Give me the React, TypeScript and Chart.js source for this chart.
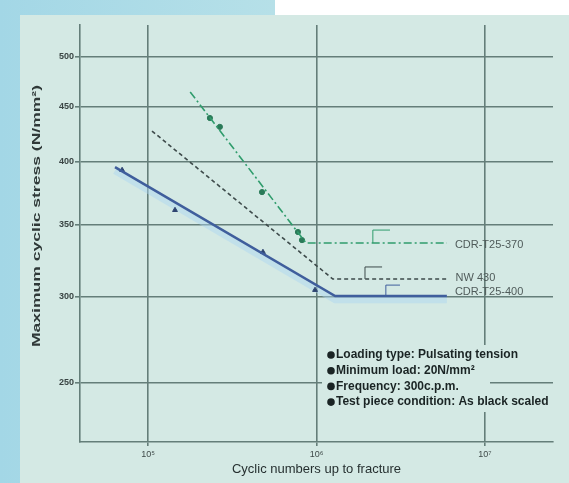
import React, { useEffect, useRef } from "react";
import { Chart, registerables } from "chart.js";

Chart.register(...registerables);

// ---- data ----
const yTicks = [250, 300, 350, 400, 450, 500];
const yTickLabels = ["250", "300", "350", "400", "450", "500"];
const xTicks = [1e5, 1e6, 1e7];
const xTickLabels = ["10⁵", "10⁶", "10⁷"];

const seriesNames = ["CDR-T25-370", "NW 430", "CDR-T25-400"];

const greenX = [1.78e5, 8.67e5, 5.94e6];
const greenY = [464, 336.5, 336.5];
const dashedX = [1.056e5, 1.25e6, 6.0e6];
const dashedY = [427, 311.7, 311.7];
const blueX = [6.37e4, 1.29e6, 5.94e6];
const blueY = [395.5, 300.6, 300.6];

const greenPtsX = [2.33e5, 2.67e5, 4.75e5, 7.76e5, 8.2e5];
const greenPtsY = [439, 430.8, 375, 344.5, 338.6];
const bluePtsX = [7.02e4, 1.446e5, 4.81e5, 9.8e5];
const bluePtsY = [393, 360.9, 330.1, 304.5];

const greenRunX = [2.16e6, 2.16e6, 2.73e6];
const greenRunY = [336.5, 345.9, 345.9];
const dashedRunX = [1.94e6, 1.94e6, 2.45e6];
const dashedRunY = [311.7, 319.8, 319.8];
const blueRunX = [2.58e6, 2.58e6, 3.13e6];
const blueRunY = [300.6, 307.7, 307.7];

const noteLines = [
  "Loading type: Pulsating tension",
  "Minimum load: 20N/mm²",
  "Frequency: 300c.p.m.",
  "Test piece condition: As black scaled",
];

const xTitle = "Cyclic numbers up to fracture";
const yTitle = "Maximum cyclic stress (N/mm²)";

const PANEL = "#d4e9e4";
const GRID = "#647e79";
const GREEN = "#2f9c6c";
const DASHED = "#3d4a4a";
const BLUE = "#3f5e9c";
const FONT = "'Liberation Sans', Arial, sans-serif";

const pts = (xs: number[], ys: number[]) => xs.map((x, i) => ({ x, y: ys[i] }));

const extras = {
  id: "extras",
  beforeDatasetsDraw(chart: any) {
    const ctx = chart.ctx;
    ctx.save();
    ctx.fillStyle = PANEL;
    ctx.fillRect(322, 345, 168, 67);
    ctx.restore();
  },
  afterDraw(chart: any) {
    const ctx = chart.ctx;
    const xs = chart.scales.x;
    const ys = chart.scales.y;
    ctx.save();
    // right labels
    ctx.fillStyle = "#4f5b5a";
    ctx.font = `11px ${FONT}`;
    ctx.textBaseline = "middle";
    ctx.textAlign = "left";
    const ends = [
      [greenX[2], greenY[2], 2],
      [dashedX[2], dashedY[2], -1],
      [blueX[2], blueY[2], -4],
    ];
    ends.forEach((e, i) => {
      const px = xs.getPixelForValue(e[0]) + 8;
      const py = ys.getPixelForValue(e[1]) + e[2];
      ctx.fillText(seriesNames[i], px, py);
    });
    // notes
    ctx.fillStyle = "#1a2424";
    ctx.font = `bold 12px ${FONT}`;
    noteLines.forEach((t, i) => {
      const y = 355 + i * 15.7;
      ctx.beginPath();
      ctx.arc(331, y, 3.8, 0, Math.PI * 2);
      ctx.fill();
      ctx.fillText(t, 336, y);
    });
    // y title
    ctx.font = `bold 11px ${FONT}`;
    ctx.fillStyle = "#2f3938";
    const w = ctx.measureText(yTitle).width;
    ctx.translate(37, 216);
    ctx.rotate(-Math.PI / 2);
    ctx.scale(262 / w, 1);
    ctx.textAlign = "center";
    ctx.fillText(yTitle, 0, 0);
    ctx.restore();
  },
};

export default function App() {
  const ref = useRef<HTMLCanvasElement | null>(null);
  useEffect(() => {
    if (!ref.current) return;
    const chart = new Chart(ref.current, {
      type: "scatter",
      data: {
        datasets: [
          {
            data: pts(greenX, greenY),
            showLine: true,
            borderColor: GREEN,
            borderWidth: 1.6,
            borderDash: [8, 3, 2, 3],
            pointRadius: 0,
          },
          {
            data: pts(dashedX, dashedY),
            showLine: true,
            borderColor: DASHED,
            borderWidth: 1.6,
            borderDash: [4, 3],
            pointRadius: 0,
          },
          {
            data: pts(blueX, blueY),
            showLine: true,
            borderColor: BLUE,
            borderWidth: 2.6,
            pointRadius: 0,
          },
          {
            data: pts(greenPtsX, greenPtsY),
            showLine: false,
            backgroundColor: "#2a7a58",
            borderColor: "#2a7a58",
            pointRadius: 2.6,
          },
          {
            data: pts(bluePtsX, bluePtsY),
            showLine: false,
            backgroundColor: "#2e4470",
            borderColor: "#2e4470",
            pointStyle: "triangle",
            pointRadius: 2.8,
          },
          {
            data: pts(greenRunX, greenRunY),
            showLine: true,
            borderColor: GREEN,
            borderWidth: 1,
            pointRadius: 0,
          },
          {
            data: pts(dashedRunX, dashedRunY),
            showLine: true,
            borderColor: DASHED,
            borderWidth: 1,
            pointRadius: 0,
          },
          {
            data: pts(blueRunX, blueRunY),
            showLine: true,
            borderColor: BLUE,
            borderWidth: 1,
            pointRadius: 0,
          },
          {
            data: pts(blueX, blueY.map((v) => v * 0.992)),
            showLine: true,
            borderColor: "rgba(170,212,242,0.45)",
            borderWidth: 7,
            pointRadius: 0,
          },
        ],
      },
      options: {
        animation: false,
        responsive: false,
        events: [],
        layout: { padding: { top: 25, right: 16, left: 0, bottom: 0 } },
        plugins: { legend: { display: false }, tooltip: { enabled: false } },
        scales: {
          x: {
            type: "logarithmic",
            min: 39480,
            max: 2.533e7,
            bounds: "data",
            afterFit: (s: any) => {
              s.height = 41;
            },
            afterBuildTicks: (s: any) => {
              s.ticks = xTicks.map((v) => ({ value: v }));
            },
            ticks: {
              autoSkip: false,
              maxRotation: 0,
              padding: 3,
              color: "#3f4a49",
              font: { size: 9, family: FONT },
              callback: (_v: any, i: number) => xTickLabels[i],
            },
            grid: { color: GRID, lineWidth: 1.6, tickLength: 4 },
            border: { color: GRID, width: 1.6 },
            title: {
              display: true,
              text: xTitle,
              color: "#263030",
              font: { size: 13, family: FONT },
              padding: { top: 0, bottom: 6 },
            },
          },
          y: {
            type: "logarithmic",
            min: 220.4,
            max: 535,
            bounds: "data",
            afterFit: (s: any) => {
              s.width = 80;
            },
            afterBuildTicks: (s: any) => {
              s.ticks = yTicks.map((v) => ({ value: v }));
            },
            ticks: {
              autoSkip: false,
              padding: 1,
              color: "#3a4544",
              font: { size: 9, weight: "bold", family: FONT },
              callback: (_v: any, i: number) => yTickLabels[i],
            },
            grid: { color: GRID, lineWidth: 1.6, tickLength: 5 },
            border: { color: GRID, width: 1.6 },
          },
        },
      },
      plugins: [extras],
    } as any);
    return () => chart.destroy();
  }, []);

  return (
    <div style={{ position: "fixed", left: 0, top: 0, width: 569, height: 483, background: "#ffffff", overflow: "hidden" }}>
      <div style={{ position: "absolute", left: 0, top: 0, width: 275, height: 483, background: "linear-gradient(90deg,#a3d7e6,#b6e0e8)" }} />
      <div style={{ position: "absolute", left: 20, top: 15, width: 549, height: 468, background: PANEL }} />
      <canvas ref={ref} width={569} height={483} style={{ position: "absolute", left: 0, top: 0, width: 569, height: 483 }} />
    </div>
  );
}
